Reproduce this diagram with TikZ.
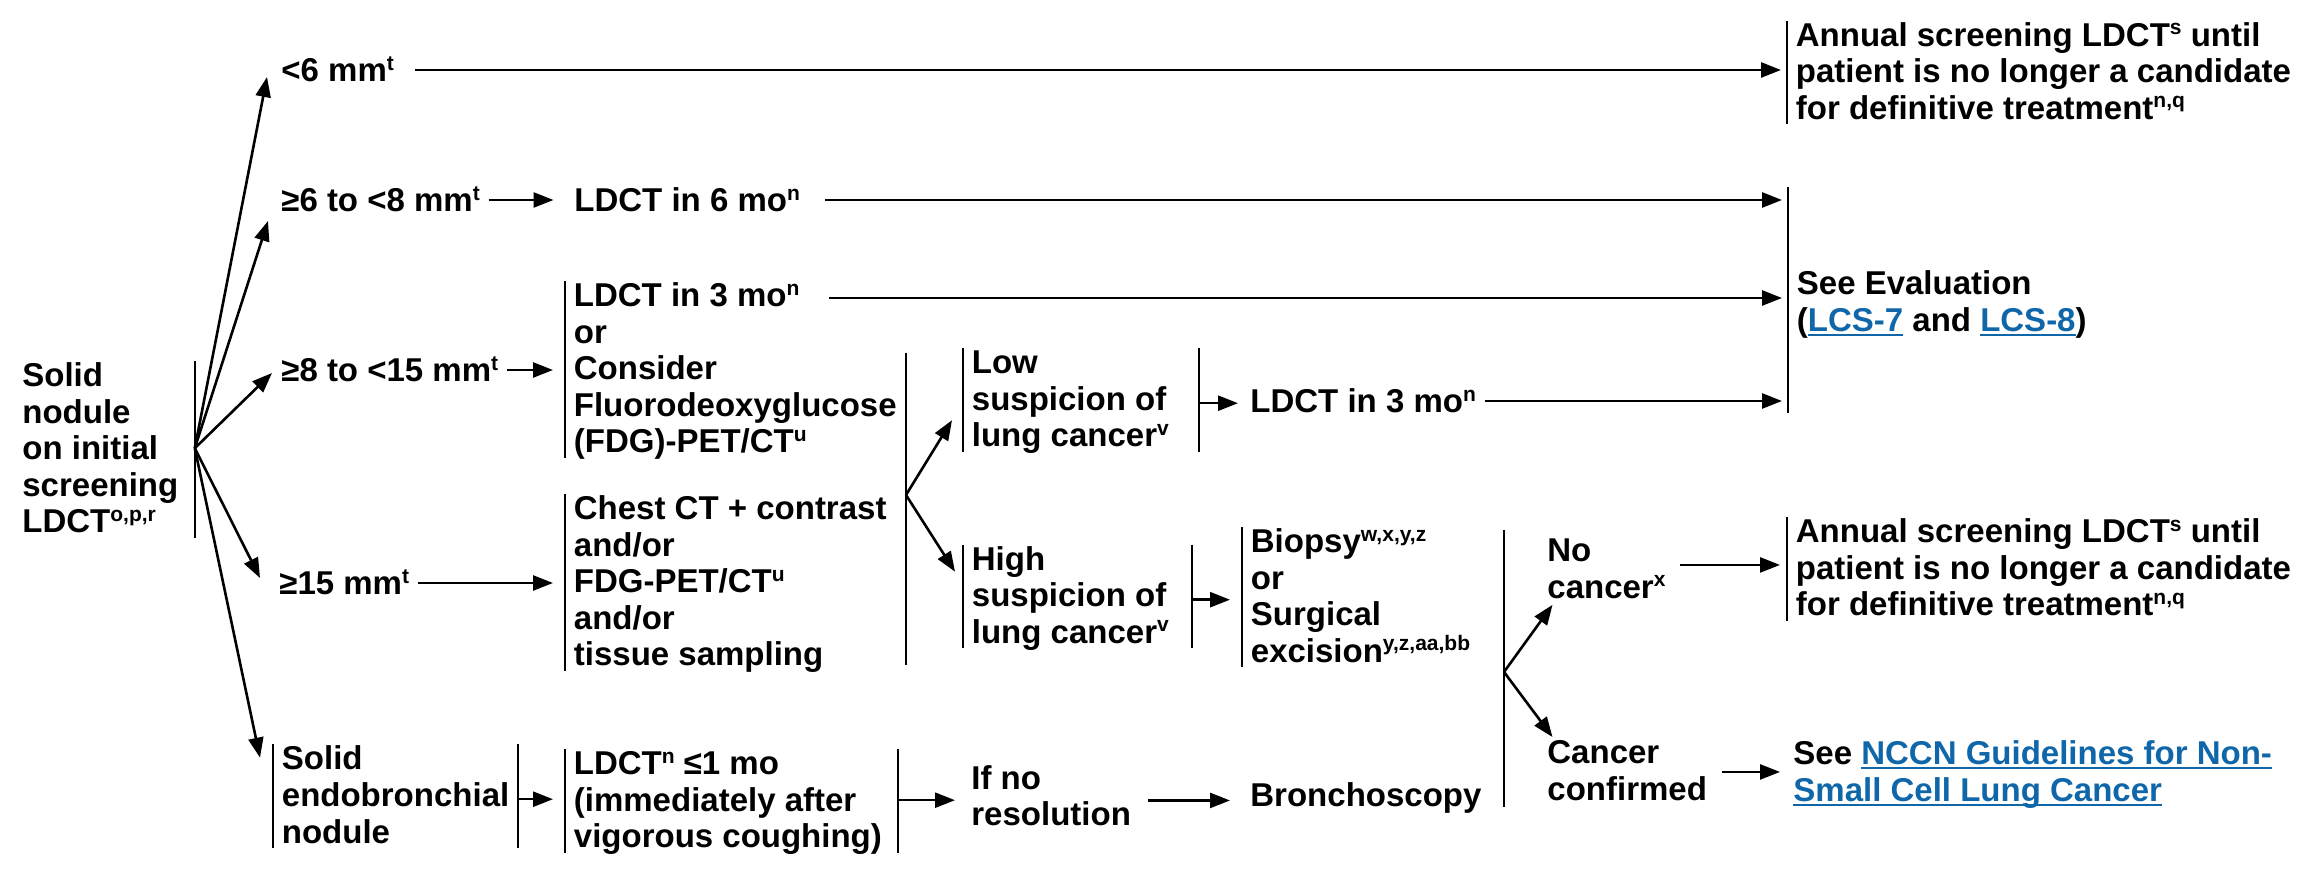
\documentclass[tikz,border=0pt]{standalone}
\usepackage{fontspec}
\setmainfont{Liberation Sans}
\usetikzlibrary{arrows.meta}
\definecolor{linkblue}{HTML}{0F67AA}
\newcommand\sps[1]{\raisebox{5.75pt}[0pt][0pt]{\fontsize{10.5pt}{10.5pt}\selectfont #1}}
\newcommand\lnk[1]{{\color{linkblue}\setbox0\hbox{#1}\rlap{\rule[-2.2pt]{\wd0}{1pt}}\box0}}
\newcommand\lns[1]{\begin{tabular}[t]{@{}l@{}}#1\end{tabular}}
\newcommand\lnw[2]{\begin{tabular}[t]{@{}p{#1}@{}}#2\end{tabular}}
\begin{document}
\begin{tikzpicture}[x=0.5pt,y=-0.5pt,
  txt/.style={font=\fontsize{16.5pt}{18.25pt}\selectfont\bfseries, inner xsep=4.25pt, inner ysep=0pt, anchor=base west},
  oneline/.style={text height=12pt,text depth=0pt},
  barline/.style={draw, line width=1pt, -},
  lbar/.style={append after command={(\tikzlastnode.north west) edge[barline] ([yshift=3.25pt]\tikzlastnode.south west)}},
  rbar/.style={append after command={(\tikzlastnode.north east) edge[barline] ([yshift=3.25pt]\tikzlastnode.south east)}},
  arr/.style={draw, line width=1.3pt, -{Triangle[length=10pt,width=7.5pt]}},
  plain/.style={draw, line width=1pt}
]
\useasboundingbox (0,0) rectangle (2324,870);

% nodes
\node[txt,rbar] (root) at (13.5,387) {\lnw{81.75pt}{Solid\\nodule\\on initial\\screening\\LDCT\sps{o,p,r}}};
\node[txt,oneline] (s6) at (272.5,82) {<6 mm\sps{t}};
\node[txt,oneline] (s68) at (272.5,212) {≥6 to <8 mm\sps{t}};
\node[txt,oneline] (s815) at (272.5,382) {≥8 to <15 mm\sps{t}};
\node[txt,oneline] (s15) at (270.5,595) {≥15 mm\sps{t}};
\node[txt,lbar,rbar] (endo) at (273,770) {\lnw{113.5pt}{Solid\\endobronchial\\nodule}};

\node[txt,oneline] (ldct6) at (565.5,212) {LDCT in 6 mo\sps{n}};
\node[txt,lbar] (box3) at (565,307) {\lns{LDCT in 3 mo\sps{n}\\or\\Consider\\Fluorodeoxyglucose\\(FDG)-PET/CT\sps{u}}};
\node[txt,lbar] (chest) at (565,520) {\lns{Chest CT + contrast\\and/or\\FDG-PET/CT\sps{u}\\and/or\\tissue sampling}};
\node[txt,lbar,rbar] (ldct1) at (565,775) {\lnw{157.5pt}{LDCT\sps{n} ≤1 mo\\(immediately after\\vigorous coughing)}};

\node[txt,lbar,rbar] (low) at (963,374) {\lnw{109pt}{Low\\suspicion of\\lung cancer\sps{v}}};
\node[txt,lbar,rbar] (high) at (963,570.5) {\lnw{105.5pt}{High\\suspicion of\\lung cancer\sps{v}}};
\node[txt,oneline] (lowldct) at (1241.5,413) {LDCT in 3 mo\sps{n}};
\node[txt,lbar] (biopsy) at (1242,553) {\lns{Biopsy\sps{w,x,y,z}\\or\\Surgical\\excision\sps{y,z,aa,bb}}};
\node[txt] (ifno) at (962.5,789.5) {\lns{If no\\resolution}};
\node[txt,oneline] (bronch) at (1241.5,806) {Bronchoscopy};

\node[txt] (nocancer) at (1538.5,562) {\lns{No\\cancer\sps{x}}};
\node[txt] (cancconf) at (1538.5,764) {\lns{Cancer\\confirmed}};

\node[txt,lbar] (annual1) at (1787,46.5) {\lns{Annual screening LDCT\sps{s} until\\patient is no longer a candidate\\for definitive treatment\sps{n,q}}};
\node[txt] (seeeval) at (1788,295) {\lns{See Evaluation\\(\lnk{LCS-7} and \lnk{LCS-8})}};
\node[txt,lbar] (annual2) at (1787,543) {\lns{Annual screening LDCT\sps{s} until\\patient is no longer a candidate\\for definitive treatment\sps{n,q}}};
\node[txt] (nsclc) at (1784.5,765) {\lns{See \lnk{NCCN Guidelines for Non-}\\\lnk{Small Cell Lung Cancer}}};

% coordinates
\coordinate (fan) at ([yshift=2.25pt]root.east);
\coordinate (g1t) at (906,353);
\coordinate (g1b) at (906,665);
\coordinate (g1m) at (906,495);
\coordinate (g2t) at (1504,530);
\coordinate (g2b) at (1504,807);
\coordinate (g2m) at (1504,672);
\coordinate (set) at (1788,187);
\coordinate (seb) at (1788,413);
\coordinate (b3out) at (829,298);
\coordinate (ncout) at ([yshift=4pt]nocancer.east);
\coordinate (ccout) at ([yshift=1.5pt]cancconf.east);
\coordinate (l1out) at ([yshift=2pt]ldct1.east);

% bars
\draw[plain] (g1t) -- (g1b);
\draw[plain] (g2t) -- (g2b);
\draw[plain] (set) -- (seb);

% fan from root
\draw[arr] (fan) -- ([xshift=-2.75pt,yshift=2.5pt]s6.base west);
\draw[arr] (fan) -- ([xshift=-2.25pt,yshift=-4.5pt]s68.base west);
\draw[arr] (fan) -- ([xshift=-0.25pt,yshift=4.5pt]s815.base west);
\draw[arr] (fan) -- ([xshift=-5.25pt,yshift=8.5pt]s15.base west);
\draw[arr] (fan) -- ([xshift=-6.5pt,yshift=-6.8pt]endo.north west);

% rows
\draw[arr,shorten <=6pt,shorten >=3pt] (s6.east) -- (annual1.west |- s6.east);
\draw[arr,shorten >=6pt] (s68.east) -- (ldct6.west |- s68.east);
\draw[arr,shorten <=8.25pt,shorten >=3pt] (ldct6.east) -- (seeeval.west |- ldct6.east);
\draw[arr,shorten >=6pt] (s815.east) -- (box3.west |- s815.east);
\draw[arr,shorten >=3pt] (b3out) -- (seeeval.west |- b3out);
\draw[arr,shorten >=6pt] (s15.east) -- (chest.west |- s15.east);

\draw[arr] (g1m) -- ([xshift=-5.5pt,yshift=-8.5pt]low.west);
\draw[arr] (g1m) -- ([xshift=-4pt,yshift=14pt]high.west);
\draw[arr,shorten >=1.75pt] (low.east) -- (lowldct.west |- low.east);
\draw[arr,shorten >=3pt] (lowldct.east) -- (seeeval.west |- lowldct.east);
\draw[arr,shorten >=6pt] (high.east) -- (biopsy.west |- high.east);

\draw[arr] (g2m) -- ([xshift=7pt,yshift=2.5pt]nocancer.south west);
\draw[arr] (g2m) -- ([xshift=7pt,yshift=0.5pt]cancconf.north west);
\draw[arr,shorten <=3pt,shorten >=3.5pt] (ncout) -- (annual2.west |- ncout);
\draw[arr,shorten <=3.25pt,shorten >=2.25pt] (ccout) -- (nsclc.west |- ccout);

\draw[arr,shorten >=6pt] (endo.east) -- (ldct1.west |- endo.east);
\draw[arr,shorten >=3.75pt] (l1out) -- (ifno.west |- l1out);
\draw[arr,shorten <=4.25pt,shorten >=5.75pt] (ifno.east) -- (bronch.west |- ifno.east);
\end{tikzpicture}
\end{document}
